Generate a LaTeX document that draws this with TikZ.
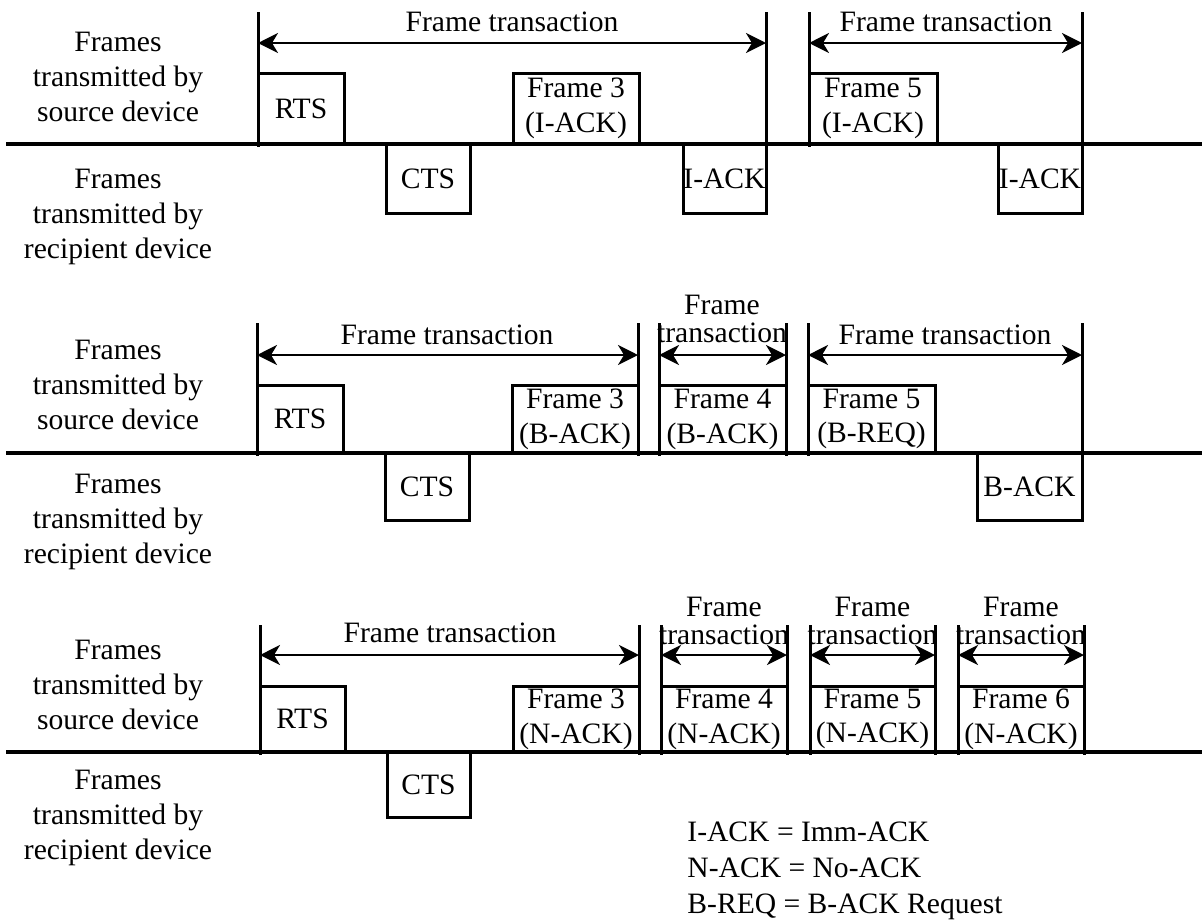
\documentclass[tikz,border=0pt]{standalone}
\usepackage{fontspec}
\setmainfont{Liberation Serif}
\usetikzlibrary{arrows.meta}

\begin{document}
\begin{tikzpicture}[
  x=0.5pt, y=-0.5pt,
  >={Stealth[length=10pt, width=10pt, inset=3pt]},
  every node/.style={font=\fontsize{14.8}{17.4}\selectfont, inner sep=0pt},
  axis/.style={line width=1.6pt},
  tick/.style={line width=1.5pt},
  frm/.style 2 args={draw, line width=1.5pt, inner sep=0pt, outer sep=0pt,
                     align=center, anchor=north west,
                     minimum width={(#1)*0.5pt}, minimum height={(#2)*0.5pt}},
  span/.style={line width=1.3pt, <->},
  side/.style={align=center},
  twoline/.style={align=center, font=\fontsize{14.8}{14}\selectfont}
]
\useasboundingbox (0,0) rectangle (1202,922);
% Imm-ACK
\draw[axis] (6,144) -- (1202,144);
\foreach \x/\b in {258/147, 766/213, 809/147, 1082/213}
  \draw[tick] (\x,12) -- (\x,\b);
\coordinate (s1a) at (258,43); \coordinate (e1a) at (766,43);
\coordinate (s1b) at (809,43); \coordinate (e1b) at (1082,43);
\draw[span] (s1a) -- (e1a);
\draw[span] (s1b) -- (e1b);
\node (ft1a) at (512,22) {Frame transaction};
\node (ft1b) at (946,22) {Frame transaction};
\node[frm={86}{71}] (rts1) at (258,73) {RTS};
\node[frm={84}{69}] (cts1) at (386,144) {CTS};
\node[frm={126}{71}] (fr3a) at (513,73) {Frame 3\\(I-ACK)};
\node[frm={83}{69}] (ack1a) at (683,144) {I-ACK};
\node[frm={128}{71}] (fr5a) at (809,73) {Frame 5\\(I-ACK)};
\node[frm={84}{69}] (ack1b) at (998,144) {I-ACK};
\node[side] (src1) at (118,77) {Frames\\transmitted by\\source device};
\node[side] (rcp1) at (118,217) {Frames\\transmitted by\\recipient device};
% B-ACK
\draw[axis] (6,453) -- (1202,453);
\foreach \x/\b in {257/456, 638/456, 659/456, 786/456, 808/456, 1082/520}
  \draw[tick] (\x,323) -- (\x,\b);
\coordinate (s2a) at (257,355); \coordinate (e2a) at (638,355);
\coordinate (s2b) at (659,355); \coordinate (e2b) at (786,355);
\coordinate (s2c) at (808,355); \coordinate (e2c) at (1082,355);
\draw[span] (s2a) -- (e2a);
\draw[span] (s2b) -- (e2b);
\draw[span] (s2c) -- (e2c);
\node (ft2a) at (447,335) {Frame transaction};
\node[twoline] (ft2b) at (722,319) {Frame\\transaction};
\node (ft2c) at (945,335) {Frame transaction};
\node[frm={86}{68}] (rts2) at (257,385) {RTS};
\node[frm={84}{67}] (cts2) at (385,453) {CTS};
\node[frm={126}{68}] (fr3b) at (512,385) {Frame 3\\(B-ACK)};
\node[frm={127}{68}] (fr4b) at (659,385) {Frame 4\\(B-ACK)};
\node[frm={127}{68}] (fr5b) at (808,385) {Frame 5\\(B-REQ)};
\node[frm={105}{67}] (ack2) at (977,453) {B-ACK};
\node[side] (src2) at (118,385) {Frames\\transmitted by\\source device};
\node[side] (rcp2) at (118,522) {Frames\\transmitted by\\recipient device};
% No-ACK
\draw[axis] (6,752) -- (1202,752);
\foreach \x in {260, 639}
  \draw[tick] (\x,625) -- (\x,755);
\coordinate (s3a) at (260,655); \coordinate (e3a) at (639,655);
\draw[span] (s3a) -- (e3a);
\node (ft3a) at (450,633) {Frame transaction};
\node[frm={85}{66}] (rts3) at (260,686) {RTS};
\node[frm={83}{65}] (cts3) at (387,752) {CTS};
\node[frm={126}{66}] (fr3c) at (513,686) {Frame 3\\(N-ACK)};
\foreach \l/\r/\n in {661/787/4, 810/935/5, 958/1084/6}{
  \draw[tick] (\l,625) -- (\l,755);
  \draw[tick] (\r,625) -- (\r,755);
  \coordinate (s3\n) at (\l,655); \coordinate (e3\n) at (\r,655);
  \draw[span] (s3\n) -- (e3\n);
  \node[twoline] (ft3\n) at ({(\l+\r)/2},621) {Frame\\transaction};
  \node[frm={\r-\l}{66}] (fr\n c) at (\l,686) {Frame \n\\(N-ACK)};
}
\node[side] (src3) at (118,685) {Frames\\transmitted by\\source device};
\node[side] (rcp3) at (118,818) {Frames\\transmitted by\\recipient device};
\node[anchor=west, align=left, font=\fontsize{14.8}{18}\selectfont] (key) at (687,871)
  {I-ACK = Imm-ACK\\N-ACK = No-ACK\\B-REQ = B-ACK Request};
\end{tikzpicture}
\end{document}
